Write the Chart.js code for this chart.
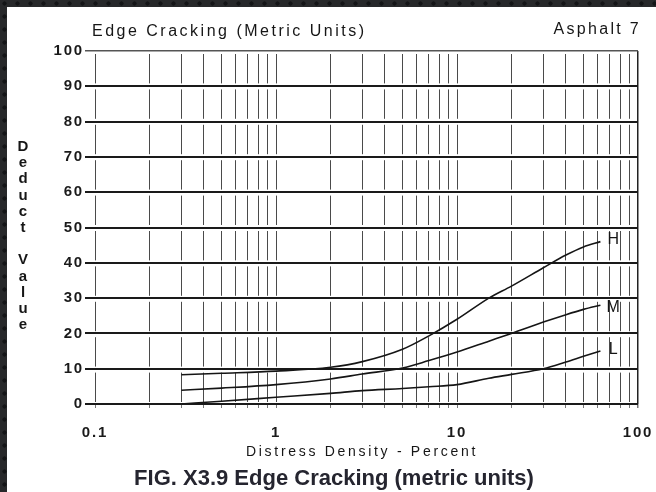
<!DOCTYPE html>
<html>
<head>
<meta charset="utf-8">
<title>Edge Cracking (Metric Units)</title>
<script src="https://cdn.jsdelivr.net/npm/chart.js@4.4.1/dist/chart.umd.min.js"></script>
<style>
  html, body { margin: 0; padding: 0; }
  body {
    width: 656px; height: 492px; overflow: hidden; position: relative;
    background-color: #27282a;
    background-image: radial-gradient(circle, #131416 1.8px, transparent 2.4px);
    background-size: 13px 13px; background-position: -2px -3px;
    font-family: "Liberation Sans", Arial, sans-serif;
  }
  #sheet { position: absolute; left: 7px; top: 7px; width: 649px; height: 485px; background: #fff; }
  #chart { position: absolute; left: 0; top: 0; }
  .t { position: absolute; line-height: 1; white-space: nowrap; color: #161616; }
  #title { left: 85px; top: 24px; font-size: 16px; letter-spacing: 2.5px; transform: translateY(-50%); }
  #series { right: 15px; top: 22px; font-size: 16px; letter-spacing: 2.3px; transform: translateY(-50%); }
  #ytitle { left: 16px; top: 130px; font-size: 15px; font-weight: bold; writing-mode: vertical-lr; text-orientation: upright; letter-spacing: -0.8px; transform: translateX(-50%); }
  #xtitle { left: 355px; top: 444px; font-size: 14px; letter-spacing: 2.7px; transform: translate(-50%, -50%); }
  #caption { left: 327px; top: 471px; font-size: 22px; font-weight: bold; color: #25252f; transform: translate(-50%, -50%); }
</style>
</head>
<body>
<div id="sheet">
  <canvas id="chart" width="649" height="485"></canvas>
  <div class="t" id="title">Edge Cracking (Metric Units)</div>
  <div class="t" id="series">Asphalt 7</div>
  <div class="t" id="ytitle">Deduct Value</div>
  <div class="t" id="xtitle">Distress Density - Percent</div>
  <div class="t" id="caption">FIG. X3.9 Edge Cracking (metric units)</div>
</div>
<script>
// Distress density (percent) at which the deduct curves are sampled
const density = [0.3, 0.5, 1, 2, 3, 5, 7, 10, 15, 20, 30, 40, 50, 62];

// Deduct values for each severity level
const deductHigh   = [8.3, 8.7, 9.3, 10.4, 12.0, 15.5, 19.3, 24.0, 30.0, 33.4, 38.6, 42.2, 44.5, 46.0];
const deductMedium = [3.9, 4.5, 5.5, 7.1, 8.5, 10.2, 12.3, 14.7, 17.8, 20.0, 23.2, 25.3, 26.8, 28.0];
const deductLow    = [0.0, 0.8, 1.9, 3.0, 3.8, 4.4, 4.9, 5.5, 7.3, 8.4, 10.0, 11.9, 13.5, 15.0];

// Severity labels written at the end of each curve
const severityNames = ['H', 'M', 'L'];
const severityLabelAt = [[73, 46.5], [73, 27.3], [73, 15.5]];

// Log-paper grid: one line per integer multiple in each decade
const gridValues = [
  0.1, 0.2, 0.3, 0.4, 0.5, 0.6, 0.7, 0.8, 0.9,
  1, 2, 3, 4, 5, 6, 7, 8, 9,
  10, 20, 30, 40, 50, 60, 70, 80, 90,
  100
];
const decadeTicks = [0.1, 1, 10, 100];
const tickLabels = ['0.1', '1', '10', '100'];

const FONT = '"Liberation Sans", Arial, sans-serif';
const INK = '#151515';

const paperType = {
  id: 'paperType',
  beforeDraw(chart) {
    chart.ctx.letterSpacing = '1.8px';
  },
  afterDatasetsDraw(chart) {
    const {ctx, scales: {x, y}} = chart;
    ctx.save();
    ctx.letterSpacing = '0px';
    ctx.font = '16px ' + FONT;
    ctx.fillStyle = INK;
    ctx.textAlign = 'center';
    ctx.textBaseline = 'middle';
    severityNames.forEach((name, i) => {
      const [px, py] = severityLabelAt[i];
      ctx.fillText(name, x.getPixelForValue(px), y.getPixelForValue(py));
    });
    ctx.restore();
  }
};

const toPoints = (values) => density.map((d, i) => ({x: d, y: values[i]}));

new Chart(document.getElementById('chart'), {
  type: 'line',
  data: {
    datasets: [
      {label: 'H', data: toPoints(deductHigh)},
      {label: 'M', data: toPoints(deductMedium)},
      {label: 'L', data: toPoints(deductLow)}
    ]
  },
  options: {
    responsive: false,
    animation: false,
    layout: {padding: {left: 0, right: 18, top: 44, bottom: 48}},
    plugins: {legend: {display: false}, tooltip: {enabled: false}},
    elements: {
      point: {radius: 0},
      line: {borderColor: INK, borderWidth: 1.6, cubicInterpolationMode: 'monotone', fill: false}
    },
    scales: {
      x: {
        type: 'logarithmic',
        min: 0.1,
        max: 100,
        afterBuildTicks(axis) {
          axis.ticks = gridValues.map(v => ({value: v}));
        },
        afterFit(axis) {
          axis.height = 40;
          axis.paddingLeft = 0;
          axis.paddingRight = 0;
        },
        ticks: {
          autoSkip: false,
          maxRotation: 0,
          padding: 16,
          color: '#1a1a1a',
          font: {family: FONT, size: 15, weight: 'bold'},
          callback(value) {
            const i = decadeTicks.indexOf(value);
            return i >= 0 ? tickLabels[i] : '';
          }
        },
        grid: {
          color: (c) => (c.tick && c.tick.value === 100) ? '#222' : '#4a4a4a',
          lineWidth: (c) => (c.tick && c.tick.value === 100) ? 1.5 : 1,
          tickLength: 4,
          tickColor: '#777'
        },
        border: {
          display: false,
          dash: (c) => (c.tick && c.tick.value === 100) ? [] : [29.4, 6],
          dashOffset: 32.4
        }
      },
      y: {
        min: 0,
        max: 100,
        afterFit(axis) {
          axis.width = 88;
          axis.paddingTop = 0;
          axis.paddingBottom = 0;
        },
        ticks: {
          stepSize: 10,
          padding: 1,
          color: '#1a1a1a',
          font: {family: FONT, size: 15, weight: 'bold'}
        },
        grid: {
          color: (c) => (c.tick && c.tick.value === 100) ? '#555' : '#1a1a1a',
          lineWidth: (c) => (c.tick && c.tick.value === 100) ? 1.5 : 2,
          tickLength: 10
        },
        border: {display: false}
      }
    }
  },
  plugins: [paperType]
});
</script>
</body>
</html>
